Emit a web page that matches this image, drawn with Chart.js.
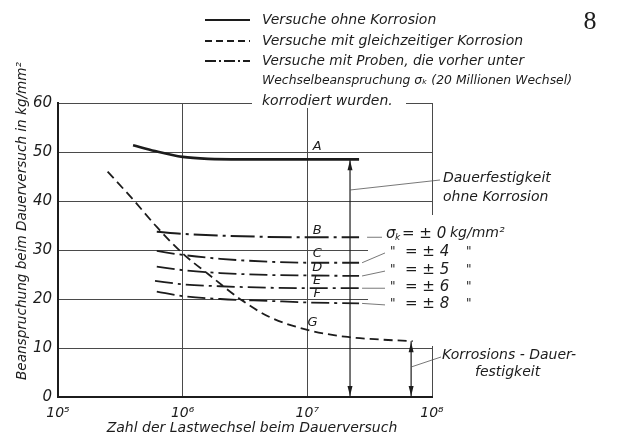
<!DOCTYPE html>
<html><head><meta charset="utf-8">
<script src="https://cdn.jsdelivr.net/npm/chart.js@4"></script>
<style>html,body{margin:0;padding:0;background:#fff;}canvas{display:block;}</style>
</head><body>
<canvas id="c" width="618" height="441"></canvas>
<script>
// ---- data ----
const xTickValues = [1e5, 1e6, 1e7, 1e8];
const yTickMin = 0, yTickMax = 60, yTickStep = 10;

const cyclesA = [4e5, 6e5, 1e6, 1.6e6, 3e6, 1e7, 2.6e7];
const stressA = [51.4, 50.2, 49.0, 48.6, 48.5, 48.5, 48.5];

const cyclesB = [6.2e5, 1e6, 3e6, 1e7, 2.6e7];
const stressB = [33.7, 33.3, 32.8, 32.6, 32.6];

const cyclesC = [6.2e5, 1e6, 2e6, 5e6, 1e7, 2.6e7];
const stressC = [29.8, 29.0, 28.2, 27.6, 27.4, 27.4];

const cyclesD = [6.2e5, 1e6, 2e6, 5e6, 1e7, 2.6e7];
const stressD = [26.6, 25.9, 25.3, 24.9, 24.8, 24.7];

const cyclesE = [6.0e5, 1e6, 2e6, 5e6, 1e7, 2.6e7];
const stressE = [23.7, 23.0, 22.6, 22.3, 22.2, 22.2];

const cyclesF = [6.2e5, 1e6, 2e6, 5e6, 1e7, 2.6e7];
const stressF = [21.5, 20.6, 20.0, 19.6, 19.3, 19.1];

const cyclesG = [2.5e5, 4e5, 6.2e5, 1e6, 1.6e6, 3e6, 5e6, 1e7, 2e7, 4e7, 7e7];
const stressG = [46.0, 40.3, 34.7, 29.3, 25.1, 19.7, 16.3, 13.7, 12.3, 11.7, 11.4];

const curveNames = ['A', 'B', 'C', 'D', 'E', 'F', 'G'];
const sigmaValues = ['0', '4', '5', '6', '8'];

const legendTexts = [
  'Versuche ohne Korrosion',
  'Versuche mit gleichzeitiger Korrosion',
  'Versuche mit Proben, die vorher unter',
  'Wechselbeanspruchung σ\u2096 (20 Millionen Wechsel)',
  'korrodiert wurden.'
];
const xTitle = 'Zahl der Lastwechsel beim Dauerversuch';
const yTitle = 'Beanspruchung beim Dauerversuch in kg/mm²';

// fatigue limits marked with arrows (cycle count, stress)
const limitNoCorr = {n: 2.2e7, s: 48.5};
const limitCorr = {n: 6.8e7, s: 11.4};

// ---- helpers ----
const pts = (xs, ys) => xs.map((x, i) => ({x, y: ys[i]}));
const INK = '#1c1c1c';
const FONT = '"DejaVu Sans", sans-serif';
const sup = {'5':'⁵','6':'⁶','7':'⁷','8':'⁸'};

function ds(label, xs, ys, width, dash) {
  return {label, data: pts(xs, ys), borderColor: INK, borderWidth: width,
    borderDash: dash, pointRadius: 0, cubicInterpolationMode: 'monotone', fill: false};
}

const datasets = [
  ds('A', cyclesA, stressA, 2.6, []),
  ds('B', cyclesB, stressB, 2.0, [24, 5, 3, 5]),
  ds('C', cyclesC, stressC, 1.8, [18, 5, 3, 5]),
  ds('D', cyclesD, stressD, 1.8, [18, 5, 3, 5]),
  ds('E', cyclesE, stressE, 1.8, [18, 5, 3, 5]),
  ds('F', cyclesF, stressF, 1.8, [18, 5, 3, 5]),
  ds('G', cyclesG, stressG, 1.8, [9, 5])
];

// annotation positions (cycles, stress) for curve letters
const letterPos = {A:[1.2e7,51.0], B:[1.2e7,33.9], C:[1.2e7,29.2], D:[1.2e7,26.5], E:[1.2e7,23.7], F:[1.2e7,21.0], G:[1.1e7,15.2]};
const sigmaRows = [33.3, 29.6, 25.9, 22.4, 19.0];
const seriesEnds = [stressB, stressC, stressD, stressE, stressF].map(a => a[a.length - 1]);

function arrowHead(ctx, x, y, dir) { // dir -1 up, +1 down (tip at x,y)
  ctx.beginPath();
  ctx.moveTo(x, y);
  ctx.lineTo(x - 2.5, y - dir * 10);
  ctx.lineTo(x + 2.5, y - dir * 10);
  ctx.closePath();
  ctx.fill();
}

const decor = {
  id: 'decor',
  afterDatasetsDraw(chart) {
    const ctx = chart.ctx, xs = chart.scales.x, ys = chart.scales.y;
    const X = v => xs.getPixelForValue(v), Y = v => ys.getPixelForValue(v);
    ctx.save();
    // white masks for text gaps in the frame
    ctx.fillStyle = '#fff';
    ctx.fillRect(252, 96, 154, 12);
    ctx.fillRect(368, 215, 250, 103);
    ctx.fillRect(420, 318, 198, 28);

    ctx.strokeStyle = INK; ctx.fillStyle = INK; ctx.lineWidth = 1.2;
    // arrow lines
    [limitNoCorr, limitCorr].forEach(l => {
      const x = X(l.n), y0 = Y(0), y1 = Y(l.s);
      ctx.beginPath(); ctx.moveTo(x, y0); ctx.lineTo(x, y1); ctx.stroke();
      arrowHead(ctx, x, y1 + 1, -1);
      arrowHead(ctx, x, y0 - 1, 1);
    });

    // curve letters
    ctx.font = 'italic 13px ' + FONT;
    ctx.textAlign = 'center'; ctx.textBaseline = 'middle';
    curveNames.forEach(n => {
      const p = letterPos[n];
      ctx.fillText(n, X(p[0]), Y(p[1]));
    });

    // leader lines to sigma labels
    ctx.lineWidth = 0.8; ctx.strokeStyle = '#555';
    const xEnd = X(cyclesB[cyclesB.length - 1]);
    const xLab = 385;
    seriesEnds.forEach((v, i) => {
      ctx.beginPath();
      if (i === 0) { ctx.moveTo(xEnd + 8, Y(v)); ctx.lineTo(xLab - 3, Y(v)); }
      else { ctx.moveTo(xEnd + 3, Y(v)); ctx.lineTo(xLab, Y(sigmaRows[i]) + 1); }
      ctx.stroke();
    });
    // sigma labels
    ctx.fillStyle = INK; ctx.textAlign = 'left'; ctx.textBaseline = 'middle';
    sigmaRows.forEach((r, i) => {
      const y = Y(r);
      if (i === 0) {
        ctx.font = 'italic 15px ' + FONT;
        ctx.fillText('σ', 386, y);
        ctx.font = 'italic 9px ' + FONT;
        ctx.fillText('k', 395, y + 4);
        ctx.font = 'italic 15px ' + FONT;
        ctx.fillText('= ± ' + sigmaValues[i], 402, y);
        ctx.font = 'italic 14px ' + FONT;
        ctx.fillText('kg/mm²', 450, y);
      } else {
        ctx.font = 'italic 12px ' + FONT;
        ctx.fillText('"', 390, y);
        ctx.fillText('"', 466, y);
        ctx.font = 'italic 15px ' + FONT;
        ctx.fillText('= ± ' + sigmaValues[i], 405, y);
      }
    });

    // callouts
    ctx.font = 'italic 14px ' + FONT;
    ctx.textBaseline = 'middle';
    ctx.fillText('Dauerfestigkeit', 443, 178);
    ctx.fillText('ohne Korrosion', 443, 197);
    ctx.fillText('Korrosions - Dauer-', 442, 355);
    ctx.fillText('festigkeit', 475, 372);
    ctx.lineWidth = 0.8; ctx.strokeStyle = '#555';
    ctx.beginPath(); ctx.moveTo(X(limitNoCorr.n), 190); ctx.lineTo(440, 180); ctx.stroke();
    ctx.beginPath(); ctx.moveTo(X(limitCorr.n), 367); ctx.lineTo(441, 357); ctx.stroke();
    ctx.restore();
  },
  afterDraw(chart) {
    const ctx = chart.ctx;
    ctx.save();
    ctx.fillStyle = INK; ctx.strokeStyle = INK;
    // legend
    const lx0 = 205, lx1 = 250, tx = 262, rows = [20, 41, 61, 81, 101];
    ctx.lineWidth = 2;
    ctx.beginPath(); ctx.moveTo(lx0, rows[0]); ctx.lineTo(lx1, rows[0]); ctx.stroke();
    ctx.setLineDash([7, 4]);
    ctx.beginPath(); ctx.moveTo(lx0, rows[1]); ctx.lineTo(lx1, rows[1]); ctx.stroke();
    ctx.setLineDash([11, 3, 2, 3]);
    ctx.beginPath(); ctx.moveTo(lx0, rows[2]); ctx.lineTo(lx1, rows[2]); ctx.stroke();
    ctx.setLineDash([]);
    ctx.textAlign = 'left'; ctx.textBaseline = 'middle';
    const sizes = [14, 14, 14, 13, 14];
    const maxW = [185, 265, 262, 310, 140];
    legendTexts.forEach((t, i) => {
      ctx.font = 'italic ' + sizes[i] + 'px ' + FONT;
      ctx.fillText(t, tx, rows[i], maxW[i]);
    });

    // axis titles
    ctx.font = 'italic 14px ' + FONT;
    ctx.textAlign = 'center';
    ctx.fillText(xTitle, 252, 428);
    ctx.save();
    ctx.translate(22, 221); ctx.rotate(-Math.PI / 2);
    ctx.fillText(yTitle, 0, 0, 318);
    ctx.restore();

    // page number
    ctx.font = '26px "Liberation Serif", serif';
    ctx.fillText('8', 590, 22);
    ctx.restore();
  }
};

new Chart(document.getElementById('c'), {
  type: 'line',
  data: {datasets},
  options: {
    responsive: false, animation: false,
    layout: {padding: {left: 0, top: 103, right: 186, bottom: 0}},
    plugins: {legend: {display: false}, tooltip: {enabled: false}},
    scales: {
      x: {
        type: 'logarithmic', min: xTickValues[0], max: xTickValues[xTickValues.length - 1],
        afterBuildTicks: s => { s.ticks = xTickValues.map(v => ({value: v})); },
        afterFit: s => { s.height = 44; },
        grid: {color: '#4a4a4a', lineWidth: 1, drawTicks: false},
        border: {color: INK, width: 2},
        ticks: {
          color: INK, padding: 8, maxRotation: 0, autoSkip: false,
          font: {family: FONT, size: 14, style: 'italic'},
          callback: v => '10' + sup[String(Math.round(Math.log10(v)))]
        }
      },
      y: {
        type: 'linear', min: yTickMin, max: yTickMax,
        afterFit: s => { s.width = 58; },
        grid: {color: '#4a4a4a', lineWidth: 1, drawTicks: false},
        border: {color: INK, width: 2},
        ticks: {stepSize: yTickStep, color: INK, padding: 6,
          font: {family: FONT, size: 15, style: 'italic'}}
      }
    }
  },
  plugins: [decor]
});
</script>
</body></html>
